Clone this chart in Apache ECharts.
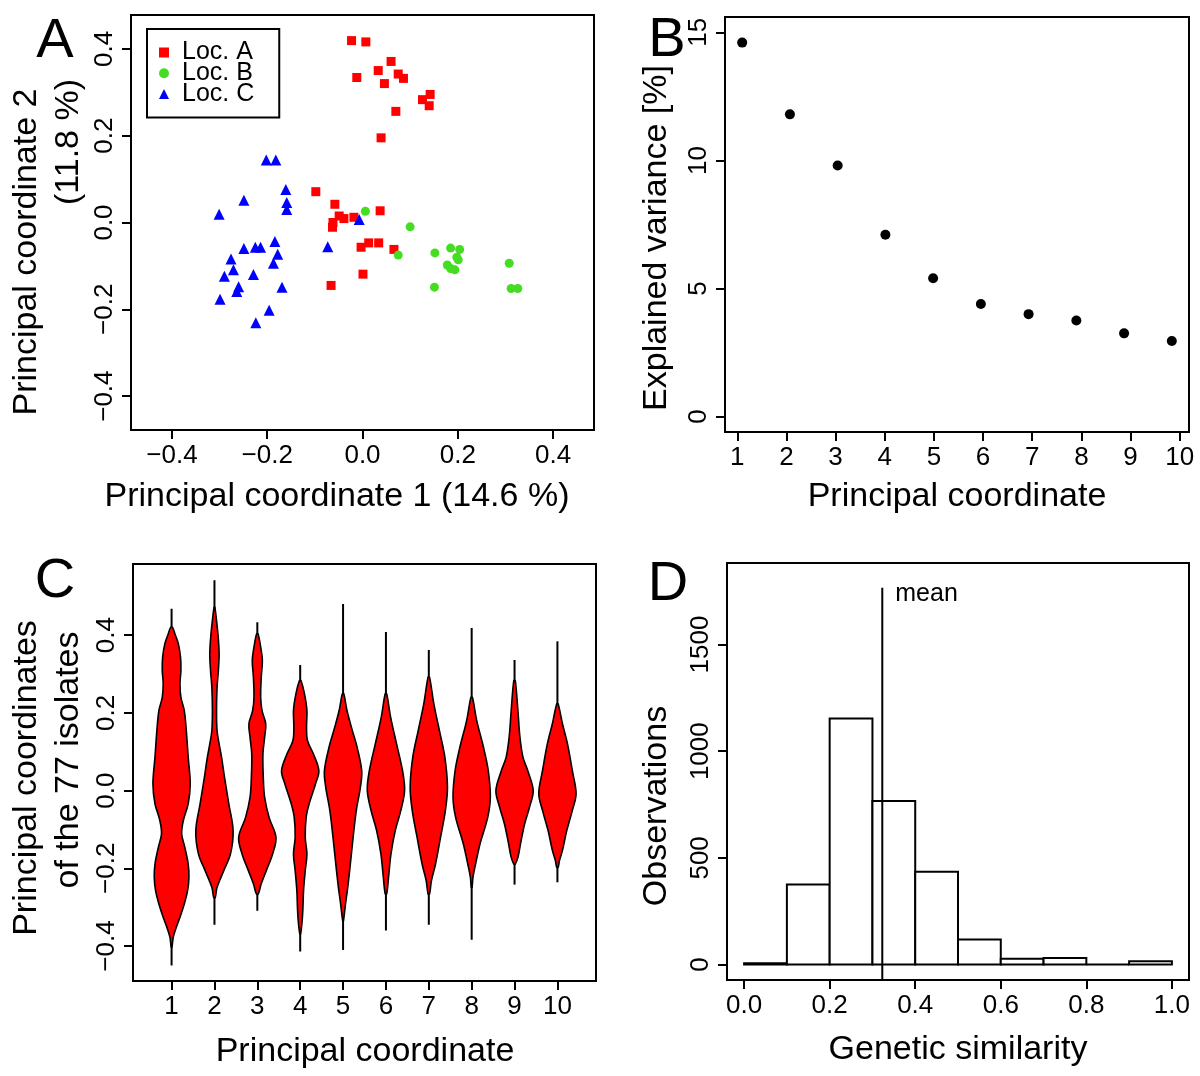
<!DOCTYPE html>
<html><head><meta charset="utf-8">
<script src="https://cdn.jsdelivr.net/npm/echarts@6/dist/echarts.min.js"></script>
<style>html,body{margin:0;padding:0;background:#fff}#c{width:1200px;height:1076px}</style>
</head><body><div id="c"></div>
<script>
// ---------- Panel A: PCoA scatter ----------
const locA_pc1 = [-0.023,0.007,-0.012,0.060,0.033,0.075,0.086,0.046,0.142,0.126,0.140,0.070,0.039,-0.098,-0.058,0.037,-0.049,-0.039,-0.018,-0.062,-0.063,-0.003,0.013,0.034,0.066,0.001,-0.066];
const locA_pc2 = [0.419,0.416,0.334,0.371,0.350,0.342,0.332,0.320,0.295,0.283,0.269,0.256,0.195,0.071,0.042,0.027,0.015,0.009,0.012,0.000,-0.011,-0.057,-0.047,-0.047,-0.062,-0.119,-0.145];
const locB_pc1 = [0.006,0.100,0.075,0.152,0.185,0.204,0.198,0.201,0.178,0.185,0.194,0.151,0.308,0.312,0.326];
const locB_pc2 = [0.026,-0.010,-0.075,-0.070,-0.059,-0.062,-0.080,-0.086,-0.098,-0.106,-0.109,-0.149,-0.094,-0.152,-0.152];
const locC_pc1 = [-0.202,-0.182,-0.161,-0.249,-0.159,-0.159,-0.301,-0.007,-0.184,-0.249,-0.225,-0.214,-0.073,-0.178,-0.276,-0.187,-0.271,-0.290,-0.229,-0.260,-0.264,-0.169,-0.299,-0.196,-0.224];
const locC_pc2 = [0.144,0.144,0.076,0.051,0.046,0.030,0.019,0.007,-0.044,-0.060,-0.057,-0.057,-0.056,-0.073,-0.084,-0.094,-0.109,-0.124,-0.120,-0.148,-0.159,-0.149,-0.177,-0.202,-0.231];
const ticksA = [-0.4,-0.2,0,0.2,0.4];

// ---------- Panel B: explained variance ----------
const pcNumbers = [1,2,3,4,5,6,7,8,9,10];
const explainedVariance = [14.6,11.8,9.8,7.1,5.4,4.4,4.0,3.75,3.25,2.95];
const ticksB_y = [0,5,10,15];

// ---------- Panel C: violins (level, relative density) ----------
const vioLevels = [
  [0.420,0.403,0.378,0.343,0.309,0.275,0.240,0.206,0.154,0.086,0.017,-0.034,-0.077,-0.111,-0.146,-0.189,-0.223,-0.257,-0.292,-0.326,-0.352,-0.377,-0.403],
  [0.472,0.438,0.395,0.352,0.309,0.266,0.206,0.154,0.120,0.086,0.034,-0.034,-0.103,-0.163,-0.206,-0.249,-0.275],
  [0.403,0.369,0.335,0.292,0.240,0.206,0.172,0.137,0.094,0.034,-0.017,-0.069,-0.120,-0.163,-0.206,-0.240,-0.266],
  [0.283,0.249,0.206,0.163,0.129,0.094,0.051,0.017,-0.034,-0.069,-0.120,-0.163,-0.206,-0.257,-0.309,-0.343,-0.369],
  [0.249,0.206,0.154,0.112,0.051,0.009,-0.051,-0.120,-0.189,-0.249,-0.292,-0.335],
  [0.249,0.189,0.120,0.051,0.000,-0.051,-0.103,-0.163,-0.223,-0.266],
  [0.292,0.223,0.154,0.086,0.009,-0.051,-0.120,-0.189,-0.232,-0.266],
  [0.240,0.180,0.112,0.051,-0.017,-0.069,-0.137,-0.189,-0.223,-0.249],
  [0.283,0.206,0.137,0.086,0.051,0.000,-0.043,-0.086,-0.137,-0.172,-0.189],
  [0.223,0.172,0.120,0.051,-0.008,-0.051,-0.103,-0.154,-0.180,-0.197]
];
const vioDensity = [
  [0.05,0.18,0.36,0.48,0.50,0.45,0.50,0.68,0.79,0.89,1.0,0.89,0.63,0.54,0.71,0.89,0.93,0.86,0.68,0.45,0.25,0.09,0.02],
  [0.02,0.11,0.20,0.25,0.21,0.14,0.11,0.14,0.25,0.38,0.54,0.77,1.0,0.86,0.50,0.14,0.04],
  [0.04,0.18,0.27,0.21,0.18,0.25,0.45,0.39,0.30,0.32,0.39,0.63,1.0,0.82,0.48,0.21,0.05],
  [0.04,0.23,0.36,0.34,0.39,0.71,1.0,0.82,0.48,0.32,0.27,0.36,0.27,0.18,0.14,0.09,0.02],
  [0.04,0.21,0.50,0.75,1.0,0.93,0.71,0.54,0.39,0.25,0.13,0.02],
  [0.04,0.25,0.57,0.89,1.0,0.80,0.50,0.27,0.14,0.04],
  [0.04,0.27,0.57,0.86,1.0,0.89,0.63,0.36,0.14,0.04],
  [0.04,0.27,0.63,0.89,1.0,0.86,0.45,0.21,0.07,0.02],
  [0.04,0.18,0.29,0.45,0.71,1.0,0.80,0.54,0.32,0.18,0.04],
  [0.04,0.27,0.54,0.80,1.0,0.80,0.50,0.27,0.11,0.04]
];
const vioMin = [-0.450,-0.345,-0.309,-0.414,-0.410,-0.360,-0.345,-0.384,-0.242,-0.236];
const vioMax = [0.468,0.541,0.433,0.323,0.480,0.408,0.362,0.418,0.336,0.384];
const ticksC_y = [-0.4,-0.2,0,0.2,0.4];

// ---------- Panel D: histogram ----------
const binEdges = [0,0.1,0.2,0.3,0.4,0.5,0.6,0.7,0.8,0.9,1.0];
const binCounts = [6,375,1153,766,435,117,27,31,0,16];
const meanSimilarity = 0.323;
const meanLineTop = 1766;
const ticksD_x = [0,0.2,0.4,0.6,0.8,1.0];
const ticksD_y = [0,500,1000,1500];

// ---------- styling ----------
const FONT = '"Liberation Sans", Arial, Helvetica, sans-serif';
const TICK_FS = 26, TITLE_FS = 34;
const fmt1 = v => (v < -1e-9 ? '\u2212' : '') + Math.abs(v).toFixed(1);
const fmt0 = v => String(Math.round(v));
const vioHalfWidth = 0.435;

function gridBox(l,t,w,h){return {left:l,top:t,width:w,height:h,show:true,borderColor:'#000',borderWidth:2,
  backgroundColor:'transparent',containLabel:false,outerBoundsMode:'none'};}
function axis(gi, min, max, ticks, formatter, isY, show){
  return {
    type:'value', gridIndex:gi, min:min, max:max, show: show!==false,
    position: isY ? 'left' : 'bottom',
    splitLine:{show:false}, axisLine:{show:false, onZero:false},
    axisTick:{show:true, inside:false, length:9, customValues:ticks, lineStyle:{color:'#000', width:2}},
    axisLabel:{show:true, customValues:ticks, formatter:formatter, color:'#000', fontSize:TICK_FS, fontFamily:FONT,
      margin: 13, rotate: isY ? 90 : 0}
  };
}

const chart = echarts.init(document.getElementById('c'), null, {renderer:'canvas'});

function zip(a,b){return a.map((v,i)=>[v,b[i]]);}

function titleText(x,y,txt,rot,fs){
  return {type:'text', x:x, y:y, rotation: rot? Math.PI/2 : 0, silent:true,
    style:{text:txt, fill:'#000', font: (fs||TITLE_FS)+'px '+FONT, textAlign:'center', textVerticalAlign:'middle'}};
}

const option = {
  animation:false,
  backgroundColor:'#fff',
  grid:[ gridBox(131,15,463,415), gridBox(725,17,464,415), gridBox(133,564,463,417), gridBox(727,563,462,417) ],
  xAxis:[
    axis(0,-0.486,0.486,ticksA,fmt1,false),
    axis(1,0.64,10.36,pcNumbers,fmt0,false,false),
    axis(1,0.75,10.19,pcNumbers,fmt0,false),
    axis(2,0.1,10.9,pcNumbers,fmt0,false),
    axis(3,-0.04,1.04,ticksD_x,fmt1,false)
  ],
  yAxis:[
    axis(0,-0.478,0.478,ticksA,fmt1,true),
    axis(1,-0.6,15.6,ticksB_y,fmt0,true),
    axis(2,-0.49,0.583,ticksC_y,fmt1,true),
    axis(3,-72.4,1882,ticksD_y,fmt0,true)
  ],
  legend:{
    data:[{name:'Loc. A',icon:'rect'},{name:'Loc. B',icon:'circle'},{name:'Loc. C',icon:'triangle'}],
    orient:'vertical', left:147, top:29, itemWidth:10, itemHeight:10, itemGap:-4.3,
    padding:[11,25,11,12], borderColor:'#000', borderWidth:2, borderRadius:0, selectedMode:false,
    textStyle:{fontSize:25, color:'#000', fontFamily:FONT, padding:[0,0,0,8]}
  },
  series:[
    {name:'Loc. A', type:'scatter', xAxisIndex:0, yAxisIndex:0, symbol:'rect', symbolSize:9, itemStyle:{color:'#FF0000', opacity:1}, data:zip(locA_pc1,locA_pc2)},
    {name:'Loc. B', type:'scatter', xAxisIndex:0, yAxisIndex:0, symbol:'circle', symbolSize:9, itemStyle:{color:'#44DD22', opacity:1}, data:zip(locB_pc1,locB_pc2)},
    {name:'Loc. C', type:'scatter', xAxisIndex:0, yAxisIndex:0, symbol:'triangle', symbolSize:11, itemStyle:{color:'#0000FF', opacity:1}, data:zip(locC_pc1,locC_pc2)},
    {name:'variance', type:'scatter', xAxisIndex:1, yAxisIndex:1, symbol:'circle', symbolSize:10, itemStyle:{color:'#000', opacity:1}, data:zip(pcNumbers,explainedVariance)},
    {name:'violins', type:'custom', xAxisIndex:3, yAxisIndex:2,
      data: pcNumbers.map((p,k)=>[p, vioMin[k], vioMax[k]]),
      encode:{x:0, y:[1,2]},
      renderItem:function(params, api){
        const k = params.dataIndex, cx = pcNumbers[k];
        const lv = vioLevels[k], dn = vioDensity[k];
        const right = [], left = [];
        for (let j=0;j<lv.length;j++){
          right.push(api.coord([cx + dn[j]*vioHalfWidth, lv[j]]));
          left.push(api.coord([cx - dn[j]*vioHalfWidth, lv[j]]));
        }
        const pts = right.concat(left.reverse());
        const top = api.coord([cx, vioMax[k]]), bot = api.coord([cx, vioMin[k]]);
        return {type:'group', children:[
          {type:'line', shape:{x1:top[0],y1:top[1],x2:bot[0],y2:bot[1]}, style:{stroke:'#000', lineWidth:2}},
          {type:'polygon', shape:{points:pts, smooth:0.35}, style:{fill:'#FF0000', stroke:'#000', lineWidth:1.6}}
        ]};
      }
    },
    {name:'histogram', type:'custom', xAxisIndex:4, yAxisIndex:3,
      data: binCounts.map((c,i)=>[binEdges[i], binEdges[i+1], c]),
      encode:{x:[0,1], y:2},
      renderItem:function(params, api){
        const p0 = api.coord([api.value(0), 0]);
        const p1 = api.coord([api.value(1), api.value(2)]);
        return {type:'rect', shape:{x:p0[0], y:p1[1], width:p1[0]-p0[0], height:p0[1]-p1[1]},
          style:{fill:'#fff', stroke:'#000', lineWidth:2}};
      }
    },
    {name:'mean', type:'custom', xAxisIndex:4, yAxisIndex:3, z:5,
      data:[[meanSimilarity, meanLineTop]],
      encode:{x:0, y:1},
      renderItem:function(params, api){
        const top = api.coord([api.value(0), api.value(1)]);
        const bot = api.coord([api.value(0), -72.4]);
        return {type:'group', children:[
          {type:'line', shape:{x1:top[0],y1:top[1],x2:bot[0],y2:bot[1]}, style:{stroke:'#000', lineWidth:2}},
          {type:'text', x:top[0]+13, y:top[1]+6, style:{text:'mean', fill:'#000', font:'25px '+FONT, textAlign:'left', textVerticalAlign:'middle'}}
        ]};
      }
    }
  ],
  graphic:[
    titleText(55,42,'A',false,56), titleText(667,41,'B',false,56),
    titleText(55,582,'C',false,56), titleText(668,585,'D',false,56),
    titleText(337,497,'Principal coordinate 1 (14.6 %)'),
    titleText(27,252,'Principal coordinate 2',true),
    titleText(69,142,'(11.8 %)',true),
    titleText(957,497,'Principal coordinate'),
    titleText(657,238,'Explained variance [%]',true),
    titleText(365,1052,'Principal coordinate'),
    titleText(27,778,'Principal coordinates',true),
    titleText(69,760,'of the 77 isolates',true),
    titleText(958,1050,'Genetic similarity'),
    titleText(657,806,'Observations',true)
  ]
};
chart.setOption(option);
</script></body></html>
